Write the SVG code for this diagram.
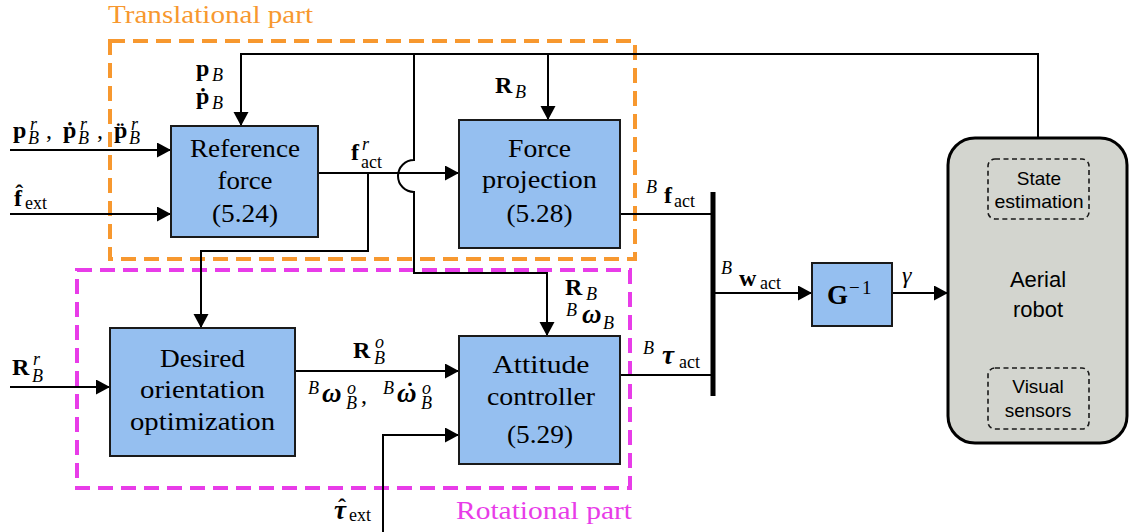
<svg xmlns="http://www.w3.org/2000/svg" width="1129" height="532" viewBox="0 0 1129 532">
<style>
.m{font-family:"Liberation Serif","DejaVu Serif",serif;font-size:24px;fill:#000}
.b{font-weight:bold}
.i{font-style:italic}
.s{font-size:18px;font-weight:normal}
.t{font-family:"Liberation Serif","DejaVu Serif",serif;font-size:26px;fill:#000;text-anchor:middle}
.cap{font-family:"Liberation Serif","DejaVu Serif",serif;font-size:25px}
.sf{font-family:"Liberation Sans","DejaVu Sans",sans-serif;fill:#000;text-anchor:middle}
.box{fill:#95BFF0;stroke:#1a1a1a;stroke-width:2}
.ln{fill:none;stroke:#000;stroke-width:2}
.dsh{fill:none;stroke:#1a1a1a;stroke-width:1.6;stroke-dasharray:5 3.5}
</style>
<defs>
<marker id="ah" markerUnits="userSpaceOnUse" markerWidth="15" markerHeight="16" refX="14" refY="7.5" orient="auto">
<path d="M0,0 L14,7.5 L0,15 z" fill="#000"/>
</marker>
</defs>
<rect width="1129" height="532" fill="#fff"/>

<g id="translational-part">
<rect x="110" y="41" width="525" height="218" fill="none" stroke="#F7982F" stroke-width="4" stroke-dasharray="15 8"/>
<text class="cap" x="108" y="23" fill="#F7982F" textLength="205" lengthAdjust="spacingAndGlyphs">Translational part</text>
</g>
<g id="rotational-part">
<rect x="77" y="270" width="553" height="218" fill="none" stroke="#E83CE8" stroke-width="4" stroke-dasharray="15 8"/>
<text class="cap" x="456" y="519" fill="#E83CE8" textLength="176" lengthAdjust="spacingAndGlyphs">Rotational part</text>
</g>

<g id="connectors">
<path class="ln" d="M10,150 H171" marker-end="url(#ah)"/>
<path class="ln" d="M10,214 H171" marker-end="url(#ah)"/>
<path class="ln" d="M1038,159 V54 H241 V126" marker-end="url(#ah)"/>
<path class="ln" d="M548,54 V120" marker-end="url(#ah)"/>
<path class="ln" d="M414,54 V160 A16,16 0 0 0 414,192 V273 H547 V336" marker-end="url(#ah)"/>
<path class="ln" d="M318,173 H459" marker-end="url(#ah)"/>
<path class="ln" d="M368,173 V251 H201 V328" marker-end="url(#ah)"/>
<path class="ln" d="M10,387 H110" marker-end="url(#ah)"/>
<path class="ln" d="M295,371 H459" marker-end="url(#ah)"/>
<path class="ln" d="M383,532 V435 H459" marker-end="url(#ah)"/>
<path class="ln" d="M620,214 H713"/>
<path class="ln" d="M620,375 H713"/>
<path d="M713,192 V396" stroke="#000" stroke-width="5" fill="none"/>
<path class="ln" d="M713,293 H812" marker-end="url(#ah)"/>
<path class="ln" d="M892,293 H948" marker-end="url(#ah)"/>
</g>

<g id="reference-force">
<rect class="box" x="171" y="126" width="147" height="111"/>
<text class="t" x="245" y="157" textLength="110" lengthAdjust="spacingAndGlyphs">Reference</text>
<text class="t" x="245" y="189" textLength="55" lengthAdjust="spacingAndGlyphs">force</text>
<text class="t" x="245" y="222" textLength="66" lengthAdjust="spacingAndGlyphs">(5.24)</text>
</g>
<g id="force-projection">
<rect class="box" x="459" y="120" width="161" height="128"/>
<text class="t" x="539.5" y="157" textLength="63" lengthAdjust="spacingAndGlyphs">Force</text>
<text class="t" x="539.5" y="188" textLength="115" lengthAdjust="spacingAndGlyphs">projection</text>
<text class="t" x="539.5" y="222" textLength="66" lengthAdjust="spacingAndGlyphs">(5.28)</text>
</g>
<g id="desired-orientation">
<rect class="box" x="110" y="328" width="185" height="128"/>
<text class="t" x="202.5" y="367" textLength="85" lengthAdjust="spacingAndGlyphs">Desired</text>
<text class="t" x="202.5" y="398" textLength="125" lengthAdjust="spacingAndGlyphs">orientation</text>
<text class="t" x="202.5" y="430" textLength="145" lengthAdjust="spacingAndGlyphs">optimization</text>
</g>
<g id="attitude-controller">
<rect class="box" x="459" y="336" width="161" height="128"/>
<text class="t" x="541" y="373" textLength="97" lengthAdjust="spacingAndGlyphs">Attitude</text>
<text class="t" x="541" y="405" textLength="108" lengthAdjust="spacingAndGlyphs">controller</text>
<text class="t" x="540" y="443" textLength="66" lengthAdjust="spacingAndGlyphs">(5.29)</text>
</g>
<g id="g-inverse">
<rect class="box" x="812" y="263" width="80" height="63"/>
<text class="m"><tspan class="b" x="827" y="304" font-size="27">G</tspan><tspan x="849" y="294" font-size="19">−</tspan><tspan x="862" y="294" font-size="19">1</tspan></text>
</g>
<g id="aerial-robot">
<rect x="948" y="138" width="179" height="305" rx="27" ry="27" fill="#D3D5CF" stroke="#000" stroke-width="3"/>
<text class="sf" x="1038" y="287" font-size="22">Aerial</text>
<text class="sf" x="1038" y="317" font-size="22">robot</text>
</g>
<g id="state-estimation">
<rect class="dsh" x="988" y="159" width="101" height="60" rx="7"/>
<text class="sf" x="1039" y="185" font-size="19">State</text>
<text class="sf" x="1039" y="208" font-size="19" textLength="89" lengthAdjust="spacingAndGlyphs">estimation</text>
</g>
<g id="visual-sensors">
<rect class="dsh" x="988" y="368" width="101" height="61" rx="7"/>
<text class="sf" x="1038" y="393" font-size="19">Visual</text>
<text class="sf" x="1038" y="417" font-size="19">sensors</text>
</g>

<g id="labels">
<text class="m"><tspan class="b" x="196" y="76">p</tspan><tspan class="i s" x="212" y="81">B</tspan></text>
<text class="m"><tspan class="b" x="196" y="104">ṗ</tspan><tspan class="i s" x="212" y="109">B</tspan></text>
<text class="m"><tspan class="b" x="495" y="93">R</tspan><tspan class="i s" x="515" y="98">B</tspan></text>
<text class="m"><tspan class="b" x="13" y="138">p</tspan><tspan class="i s" x="30" y="130">r</tspan><tspan class="i s" x="28" y="144">B</tspan><tspan x="46" y="138">,</tspan><tspan class="b" x="63" y="138">ṗ</tspan><tspan class="i s" x="80" y="130">r</tspan><tspan class="i s" x="78" y="144">B</tspan><tspan x="97" y="138">,</tspan><tspan class="b" x="114" y="138">p̈</tspan><tspan class="i s" x="131" y="130">r</tspan><tspan class="i s" x="129" y="144">B</tspan></text>
<text class="m"><tspan class="b" x="14" y="206">f̂</tspan><tspan class="s" x="25" y="209">ext</tspan></text>
<text class="m"><tspan class="b" x="351" y="160">f</tspan><tspan class="i s" x="362" y="150">r</tspan><tspan class="s" x="361" y="168">act</tspan></text>
<text class="m"><tspan class="i s" x="646" y="193">B</tspan><tspan class="b" x="664" y="203">f</tspan><tspan class="s" x="674" y="207">act</tspan></text>
<text class="m"><tspan class="i s" x="721" y="274">B</tspan><tspan class="b" x="739" y="286">w</tspan><tspan class="s" x="760" y="289">act</tspan></text>
<text class="m"><tspan class="i s" x="643" y="354">B</tspan><tspan class="b i" x="662" y="364" font-size="27">τ</tspan><tspan class="s" x="679" y="368">act</tspan></text>
<text class="m"><tspan class="b" x="565" y="295">R</tspan><tspan class="i s" x="586" y="300">B</tspan></text>
<text class="m"><tspan class="i s" x="566" y="316">B</tspan><tspan class="b i" x="582" y="323" font-size="27">ω</tspan><tspan class="i s" x="603" y="329">B</tspan></text>
<text class="m"><tspan class="b" x="353" y="358">R</tspan><tspan class="i s" x="375" y="348">o</tspan><tspan class="i s" x="374" y="364">B</tspan></text>
<text class="m"><tspan class="i s" x="308" y="394">B</tspan><tspan class="b i" x="322" y="402" font-size="27">ω</tspan><tspan class="i s" x="347" y="394">o</tspan><tspan class="i s" x="346" y="409">B</tspan><tspan x="361" y="403">,</tspan><tspan class="i s" x="383" y="394">B</tspan><tspan class="b i" x="397" y="402" font-size="27">ω</tspan><tspan class="b" x="406" y="399">˙</tspan><tspan class="i s" x="422" y="394">o</tspan><tspan class="i s" x="421" y="409">B</tspan></text>
<text class="m"><tspan class="b" x="12" y="375">R</tspan><tspan class="i s" x="33" y="365">r</tspan><tspan class="i s" x="32" y="382">B</tspan></text>
<text class="m"><tspan class="b i" x="334" y="519" font-size="27">τ</tspan><tspan class="b" x="338" y="515">ˆ</tspan><tspan class="s" x="349" y="521">ext</tspan></text>
<text class="m i" x="902" y="283">γ</text>
</g>
</svg>
